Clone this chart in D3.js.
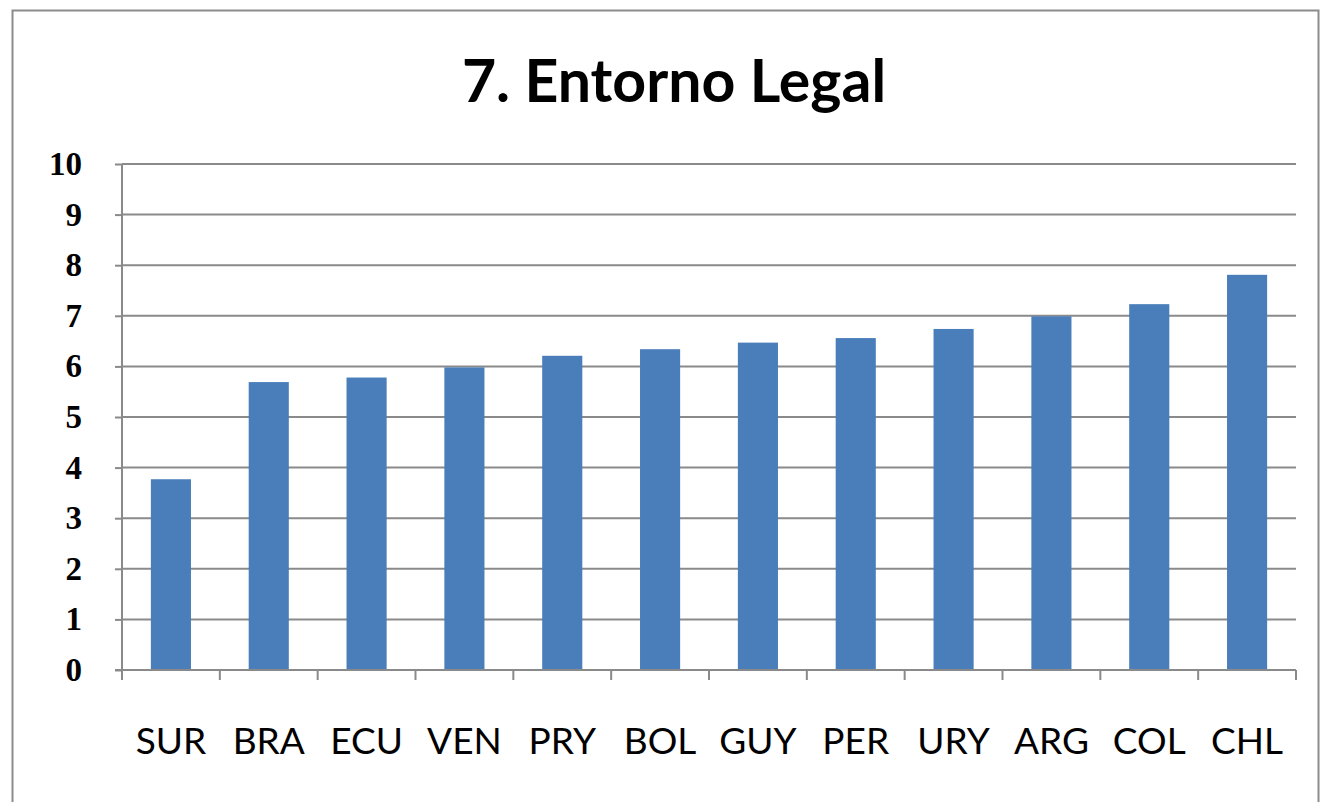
<!DOCTYPE html>
<html>
<head>
<meta charset="utf-8">
<script src="https://cdn.jsdelivr.net/npm/d3@7"></script>
<style>
  body { margin: 0; background: #fff; }
  svg { display: block; }
</style>
</head>
<body>
<script>
var countries = ["SUR","BRA","ECU","VEN","PRY","BOL","GUY","PER","URY","ARG","COL","CHL"];
var scores = [3.77, 5.69, 5.78, 5.98, 6.21, 6.34, 6.47, 6.56, 6.74, 6.99, 7.23, 7.81];
var yTicks = [0,1,2,3,4,5,6,7,8,9,10];
var title = "7. Entorno Legal";

var WIDTH = 1324, HEIGHT = 802;
var LEFT = 122, RIGHT = 1296, TOP = 164, BOTTOM = 670;

var svg = d3.select("body").append("svg")
    .attr("width", WIDTH)
    .attr("height", HEIGHT);

// chart border
svg.append("rect")
    .attr("x", 12.5).attr("y", 10.5)
    .attr("width", 1306).attr("height", 800)
    .attr("fill", "#fff")
    .attr("stroke", "#8c8c8c")
    .attr("stroke-width", 2);

svg.append("text")
    .attr("x", 674).attr("y", 102)
    .attr("text-anchor", "middle")
    .style("font-family", "Lato, 'Open Sans', sans-serif")
    .style("font-weight", "bold")
    .style("font-size", "59px")
    .attr("fill", "#000")
    .text(title);

var x = d3.scaleBand()
    .domain(countries)
    .range([LEFT, RIGHT])
    .paddingInner(0.59)
    .paddingOuter(0.295);

var y = d3.scaleLinear()
    .domain([0, 10])
    .range([BOTTOM, TOP]);

// gridlines
svg.append("g").selectAll("line")
    .data(yTicks.slice(1))
    .enter().append("line")
    .attr("x1", LEFT).attr("x2", RIGHT)
    .attr("y1", function (d) { return y(d); })
    .attr("y2", function (d) { return y(d); })
    .attr("stroke", "#8a8a8a")
    .attr("stroke-width", 2);

// y axis
var yAxis = d3.axisLeft(y).tickValues(yTicks).tickSize(7).tickPadding(33);
var gy = svg.append("g")
    .attr("transform", "translate(" + LEFT + ",0)")
    .call(yAxis);
gy.selectAll("path, line").attr("stroke", "#8a8a8a").attr("stroke-width", 2);
gy.select("path").attr("d", "M0," + BOTTOM + "V" + TOP);
gy.selectAll("text")
    .style("font-family", "'Liberation Serif', 'DejaVu Serif', serif")
    .style("font-weight", "bold")
    .style("font-size", "33px")
    .attr("fill", "#000");

// bars
svg.append("g").selectAll("rect")
    .data(countries)
    .enter().append("rect")
    .attr("x", function (d) { return x(d); })
    .attr("width", x.bandwidth())
    .attr("y", function (d, i) { return y(scores[i]); })
    .attr("height", function (d, i) { return BOTTOM - y(scores[i]); })
    .attr("fill", "#4a7ebb");

// x axis
var xAxis = d3.axisBottom(x).tickSize(0).tickPadding(0);
var gx = svg.append("g")
    .attr("transform", "translate(0," + BOTTOM + ")")
    .call(xAxis);
gx.select("path").attr("stroke", "#8a8a8a").attr("stroke-width", 2)
    .attr("d", "M" + (LEFT - 7) + ",0H" + RIGHT);
gx.selectAll("text")
    .attr("y", 84)
    .attr("dy", 0)
    .style("font-family", "Lato, 'Open Sans', sans-serif")
    .style("font-size", "37px")
    .attr("fill", "#000");

// category boundary ticks
var step = x.step();
gx.append("g").selectAll("line")
    .data(d3.range(countries.length + 1))
    .enter().append("line")
    .attr("x1", function (i) { return LEFT + i * step; })
    .attr("x2", function (i) { return LEFT + i * step; })
    .attr("y1", 0).attr("y2", 10)
    .attr("stroke", "#8a8a8a")
    .attr("stroke-width", 2);
</script>
</body>
</html>
